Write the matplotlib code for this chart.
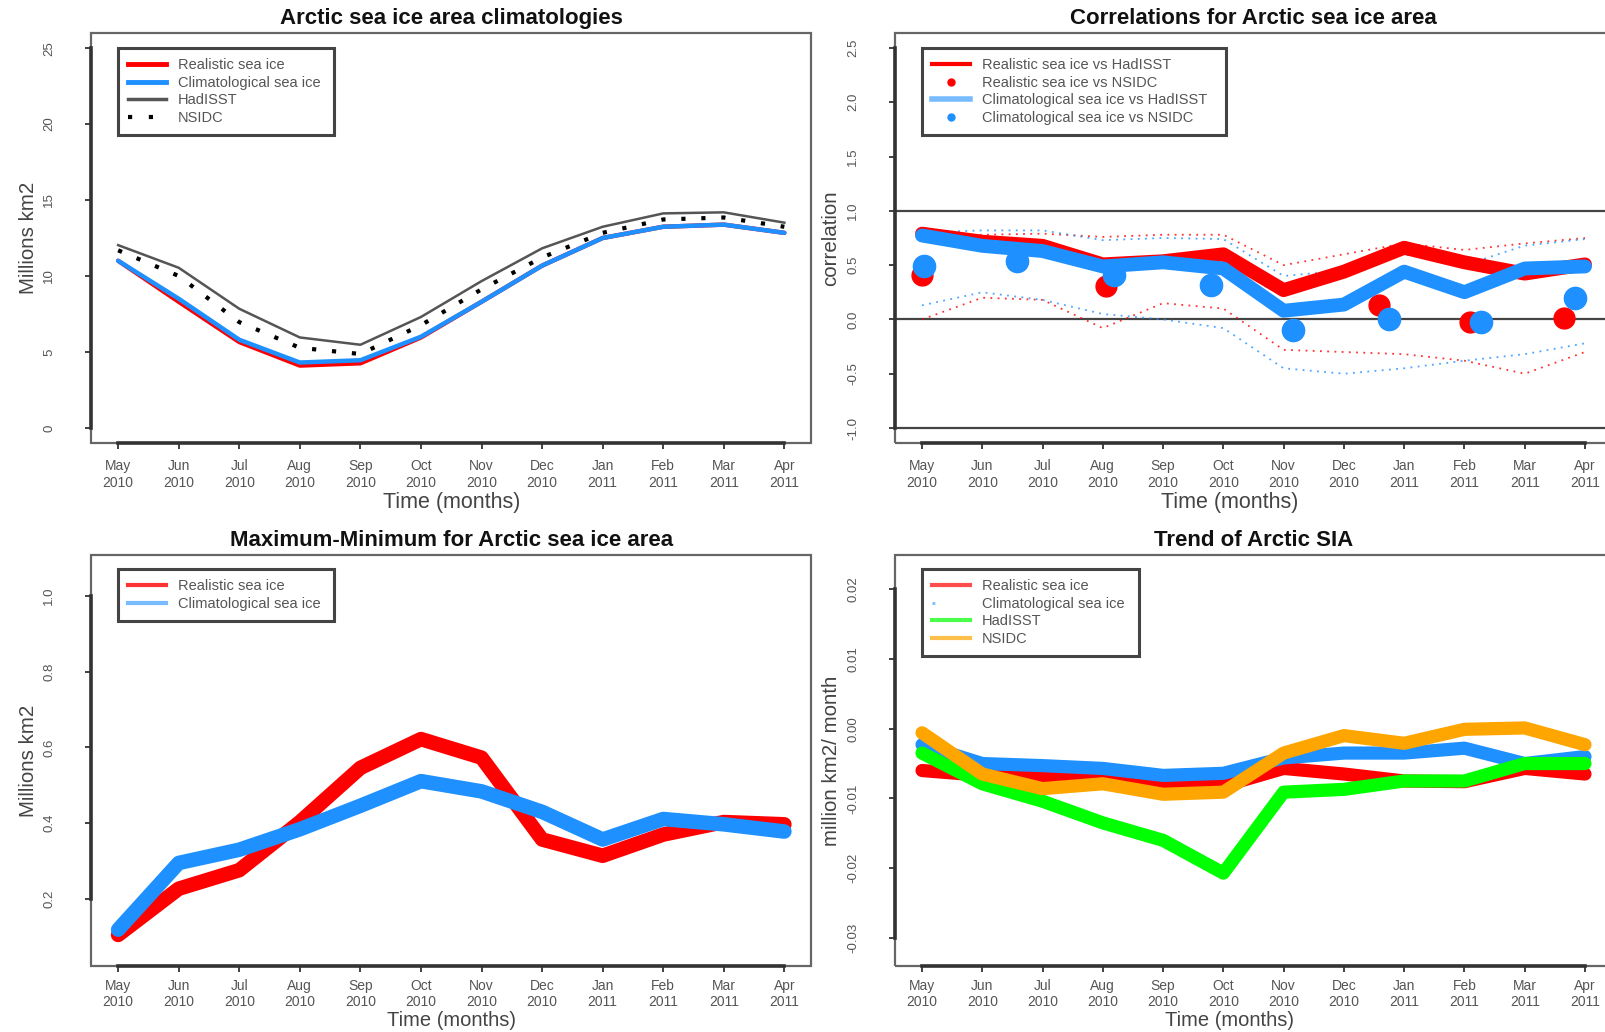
import matplotlib
matplotlib.use("Agg")
import matplotlib.pyplot as plt
from matplotlib.lines import Line2D
from matplotlib.patches import Rectangle
import numpy as np

plt.rcParams['font.family'] = ['Liberation Sans', 'DejaVu Sans']

W, H = 1606, 1032

# ---------------------------------------------------------------- data
months = ["May", "Jun", "Jul", "Aug", "Sep", "Oct", "Nov", "Dec", "Jan", "Feb", "Mar", "Apr"]
years = ["2010"] * 8 + ["2011"] * 4
xtick_labels = [f"{m}\n{y}" for m, y in zip(months, years)]
month_idx = np.arange(12)

# Sea ice area climatologies (million km2)
clim_realistic = [11.0, 8.3, 5.65, 4.1, 4.25, 5.95, 8.3, 10.68, 12.5, 13.24, 13.38, 12.84]
clim_climatological = [11.0, 8.5, 5.8, 4.3, 4.45, 6.0, 8.3, 10.68, 12.5, 13.24, 13.38, 12.84]
clim_hadisst = [12.03, 10.54, 7.84, 5.95, 5.47, 7.3, 9.66, 11.82, 13.24, 14.12, 14.19, 13.51]
clim_nsidc = [11.69, 10.0, 6.96, 5.27, 4.86, 6.76, 9.12, 11.22, 12.84, 13.72, 13.85, 13.24]

# Correlations
corr_real_had = [0.79, 0.716, 0.678, 0.507, 0.536, 0.60, 0.27, 0.44, 0.66, 0.526, 0.422, 0.507]
corr_clim_had = [0.773, 0.678, 0.63, 0.488, 0.526, 0.469, 0.08, 0.137, 0.44, 0.251, 0.469, 0.488]
corr_real_nsidc_x = [0.0, 1.58, 3.06, 4.79, 6.15, 7.59, 9.1, 10.66]
corr_real_nsidc = [0.41, 0.535, 0.31, 0.32, -0.10, 0.13, -0.02, 0.01]
corr_clim_nsidc_x = [0.03, 1.58, 3.19, 4.79, 6.15, 7.74, 9.27, 10.83]
corr_clim_nsidc = [0.49, 0.535, 0.41, 0.32, -0.10, 0.0, -0.02, 0.20]
corr_real_upper = [0.78, 0.78, 0.79, 0.76, 0.78, 0.78, 0.50, 0.60, 0.70, 0.64, 0.70, 0.75]
corr_real_lower = [0.0, 0.20, 0.18, -0.08, 0.15, 0.10, -0.28, -0.30, -0.32, -0.38, -0.50, -0.30]
corr_clim_upper = [0.80, 0.82, 0.82, 0.73, 0.75, 0.74, 0.40, 0.45, 0.60, 0.50, 0.68, 0.74]
corr_clim_lower = [0.13, 0.25, 0.18, 0.05, 0.0, -0.08, -0.45, -0.50, -0.45, -0.38, -0.32, -0.22]

# Maximum - minimum (million km2)
range_realistic = [0.105, 0.227, 0.276, 0.403, 0.546, 0.622, 0.573, 0.357, 0.314, 0.370, 0.403, 0.397]
range_climatological = [0.119, 0.295, 0.330, 0.384, 0.446, 0.511, 0.484, 0.430, 0.357, 0.411, 0.397, 0.378]

# Trends (million km2 / month)
trend_realistic = [-0.0060, -0.0067, -0.0067, -0.0075, -0.0084, -0.0082, -0.0057, -0.0065, -0.0075, -0.0076, -0.0057, -0.0065]
trend_climatological = [-0.0023, -0.0050, -0.0053, -0.0057, -0.0067, -0.0064, -0.0042, -0.0035, -0.0035, -0.0028, -0.0050, -0.0040]
trend_hadisst = [-0.0035, -0.0079, -0.0104, -0.0135, -0.0160, -0.0207, -0.0091, -0.0087, -0.0075, -0.0075, -0.0050, -0.0050]
trend_nsidc = [-0.0006, -0.0065, -0.0086, -0.0079, -0.0094, -0.0091, -0.0035, -0.0010, -0.0021, -0.0001, 0.0001, -0.0023]

# ---------------------------------------------------------------- style
RED = "#ff0000"
BLUE = "#1e90ff"
GREEN = "#00ff00"
ORANGE = "#ffa500"
TXT = "#444444"

fig = plt.figure(figsize=(W / 100, H / 100), dpi=100)


def make_axes(x0, y0, x1, y1):
    return fig.add_axes([x0 / W, 1 - y1 / H, (x1 - x0) / W, (y1 - y0) / H])


def style(ax, yticks, ylabels, ylim, title, ylabel, xlab_pos, ylab_x,
          xlab_size=15.5, xpad=7.5, xspacing=1.25):
    ax.set_xlim(-0.44, 11.44)
    ax.set_ylim(*ylim)
    ax.set_xticks(month_idx)
    ax.set_xticklabels(xtick_labels, fontsize=10, color="#555555", linespacing=xspacing)
    ax.set_yticks(yticks)
    ax.set_yticklabels(ylabels, rotation=90, va="center", fontsize=9.5, color="#555555")
    ax.tick_params(axis="both", length=4, width=1.3, color="#333333")
    ax.tick_params(axis="x", pad=xpad)
    ax.tick_params(axis="y", pad=22)
    for s in ("top", "right"):
        ax.spines[s].set_visible(False)
    for s in ("left", "bottom"):
        ax.spines[s].set_color("#333333")
        ax.spines[s].set_linewidth(2.6)
    ax.spines["left"].set_bounds(yticks[0], yticks[-1])
    ax.spines["bottom"].set_bounds(0, 11)
    ax.add_patch(Rectangle((0, 0), 1, 1, transform=ax.transAxes, fill=False,
                           ec="#666666", lw=1.6, clip_on=False, zorder=0.5))
    ax.text(0.5, 1.036, title, transform=ax.transAxes, ha="center", va="center",
            fontsize=16, fontweight="bold", color="#111111")
    ax.text(ylab_x, 0.5, ylabel, transform=ax.transAxes, ha="center", va="center",
            rotation=90, fontsize=14.8, color=TXT)
    ax.text(xlab_pos[0], xlab_pos[1], "Time (months)", transform=ax.transAxes,
            ha="center", va="center", fontsize=xlab_size, color=TXT)


def legend(ax, handles, labels, x0, y1, w, h):
    leg = ax.legend(handles, labels, loc="upper left", mode="expand",
                    bbox_to_anchor=(x0, y1 - h, w, h), borderaxespad=0,
                    fontsize=10.5, handlelength=2.6, handletextpad=0.8,
                    labelspacing=0.24, borderpad=0.7, fancybox=False,
                    framealpha=1, edgecolor="#444444", numpoints=1)
    leg.get_frame().set_linewidth(2.2)
    for t in leg.get_texts():
        t.set_color("#555555")
    return leg


# ---------------------------------------------------------------- top left
ax1 = make_axes(91.5, 33, 811, 443)
ax1.plot(month_idx, clim_realistic, color=RED, lw=3.2, solid_capstyle="round")
ax1.plot(month_idx, clim_climatological, color=BLUE, lw=3.2, solid_capstyle="round")
ax1.plot(month_idx, clim_hadisst, color="#555555", lw=1.8)
ax1.plot(month_idx, clim_nsidc, color="black", lw=3, linestyle=(0, (1, 3.8)),
         dash_capstyle="butt")
style(ax1, [0, 5, 10, 15, 20, 25], ["0", "5", "10", "15", "20", "25"], (-1, 26),
      "Arctic sea ice area climatologies", "Millions km2", (0.5, -0.144), -0.088)
legend(ax1,
       [Line2D([], [], color=RED, lw=3.5), Line2D([], [], color=BLUE, lw=3.5),
        Line2D([], [], color="#555555", lw=2.5),
        Line2D([], [], color="black", lw=3, linestyle=(0, (1, 4)))],
       ["Realistic sea ice", "Climatological sea ice", "HadISST", "NSIDC"],
       (118 - 91.5) / 719.5, (443 - 48) / 410, 216 / 719.5, 85 / 410)

# ---------------------------------------------------------------- top right
ax2 = make_axes(895.5, 33, 1611.5, 443)
for yv in (1, 0, -1):
    ax2.axhline(yv, color="#444444", lw=1.6, zorder=1)
ax2.plot(month_idx, corr_real_upper, color=RED, lw=1.3, ls=(0, (1, 3)), alpha=0.8)
ax2.plot(month_idx, corr_real_lower, color=RED, lw=1.3, ls=(0, (1, 3)), alpha=0.8)
ax2.plot(month_idx, corr_clim_upper, color=BLUE, lw=1.3, ls=(0, (1, 3)), alpha=0.8)
ax2.plot(month_idx, corr_clim_lower, color=BLUE, lw=1.3, ls=(0, (1, 3)), alpha=0.8)
ax2.plot(month_idx, corr_real_had, color=RED, lw=10, solid_capstyle="round",
         solid_joinstyle="round", zorder=3)
ax2.plot(corr_real_nsidc_x, corr_real_nsidc, "o", color=RED, ms=15, zorder=3)
ax2.plot(month_idx, corr_clim_had, color=BLUE, lw=10, solid_capstyle="round",
         solid_joinstyle="round", zorder=4)
ax2.plot(corr_clim_nsidc_x, corr_clim_nsidc, "o", color=BLUE, ms=16, zorder=4)
style(ax2, [-1.0, -0.5, 0.0, 0.5, 1.0, 1.5, 2.0, 2.5],
      ["-1.0", "-0.5", "0.0", "0.5", "1.0", "1.5", "2.0", "2.5"], (-1.138, 2.638),
      "Correlations for Arctic sea ice area", "correlation", (0.467, -0.144), -0.09)
legend(ax2,
       [Line2D([], [], color=RED, lw=3), Line2D([], [], color=RED, marker="o", ls="none", ms=5),
        Line2D([], [], color=BLUE, lw=4, alpha=0.6),
        Line2D([], [], color=BLUE, marker="o", ls="none", ms=5)],
       ["Realistic sea ice vs HadISST", "Realistic sea ice vs NSIDC",
        "Climatological sea ice vs HadISST", "Climatological sea ice vs NSIDC"],
       (922 - 895.5) / 716, (443 - 48) / 410, 304 / 716, 85 / 410)

# ---------------------------------------------------------------- bottom left
ax3 = make_axes(91.5, 555, 811, 966)
ax3.plot(month_idx, range_realistic, color=RED, lw=10.5, solid_capstyle="round",
         solid_joinstyle="round")
ax3.plot(month_idx, range_climatological, color=BLUE, lw=10.5, solid_capstyle="round",
         solid_joinstyle="round")
style(ax3, [0.2, 0.4, 0.6, 0.8, 1.0], ["0.2", "0.4", "0.6", "0.8", "1.0"], (0.023, 1.108),
      "Maximum-Minimum for Arctic sea ice area", "Millions km2", (0.5, -0.132), -0.088,
      xlab_size=14.5, xpad=5.5, xspacing=1.15)
legend(ax3,
       [Line2D([], [], color=RED, lw=3, alpha=0.8), Line2D([], [], color=BLUE, lw=3, alpha=0.6)],
       ["Realistic sea ice", "Climatological sea ice"],
       (118 - 91.5) / 719.5, (966 - 569) / 411, 216 / 719.5, 50 / 411)

# ---------------------------------------------------------------- bottom right
ax4 = make_axes(895.5, 555, 1611.5, 966)
for series, col in ((trend_realistic, RED), (trend_climatological, BLUE),
                    (trend_hadisst, GREEN), (trend_nsidc, ORANGE)):
    ax4.plot(month_idx, series, color=col, lw=9.5, solid_capstyle="round",
             solid_joinstyle="round")
style(ax4, [-0.03, -0.02, -0.01, 0.0, 0.01, 0.02],
      ["-0.03", "-0.02", "-0.01", "0.00", "0.01", "0.02"], (-0.0340, 0.02487),
      "Trend of Arctic SIA", "million km2/ month", (0.467, -0.132), -0.09,
      xlab_size=14.5, xpad=5.5, xspacing=1.15)
legend(ax4,
       [Line2D([], [], color=RED, lw=3, alpha=0.7),
        Line2D([], [], color=BLUE, lw=2, ls=(0, (1, 30)), alpha=0.6),
        Line2D([], [], color=GREEN, lw=3, alpha=0.7),
        Line2D([], [], color=ORANGE, lw=3, alpha=0.7)],
       ["Realistic sea ice", "Climatological sea ice", "HadISST", "NSIDC"],
       (922 - 895.5) / 716, (966 - 569) / 411, 217 / 716, 86 / 411)

fig.savefig("out.png", dpi=100)
